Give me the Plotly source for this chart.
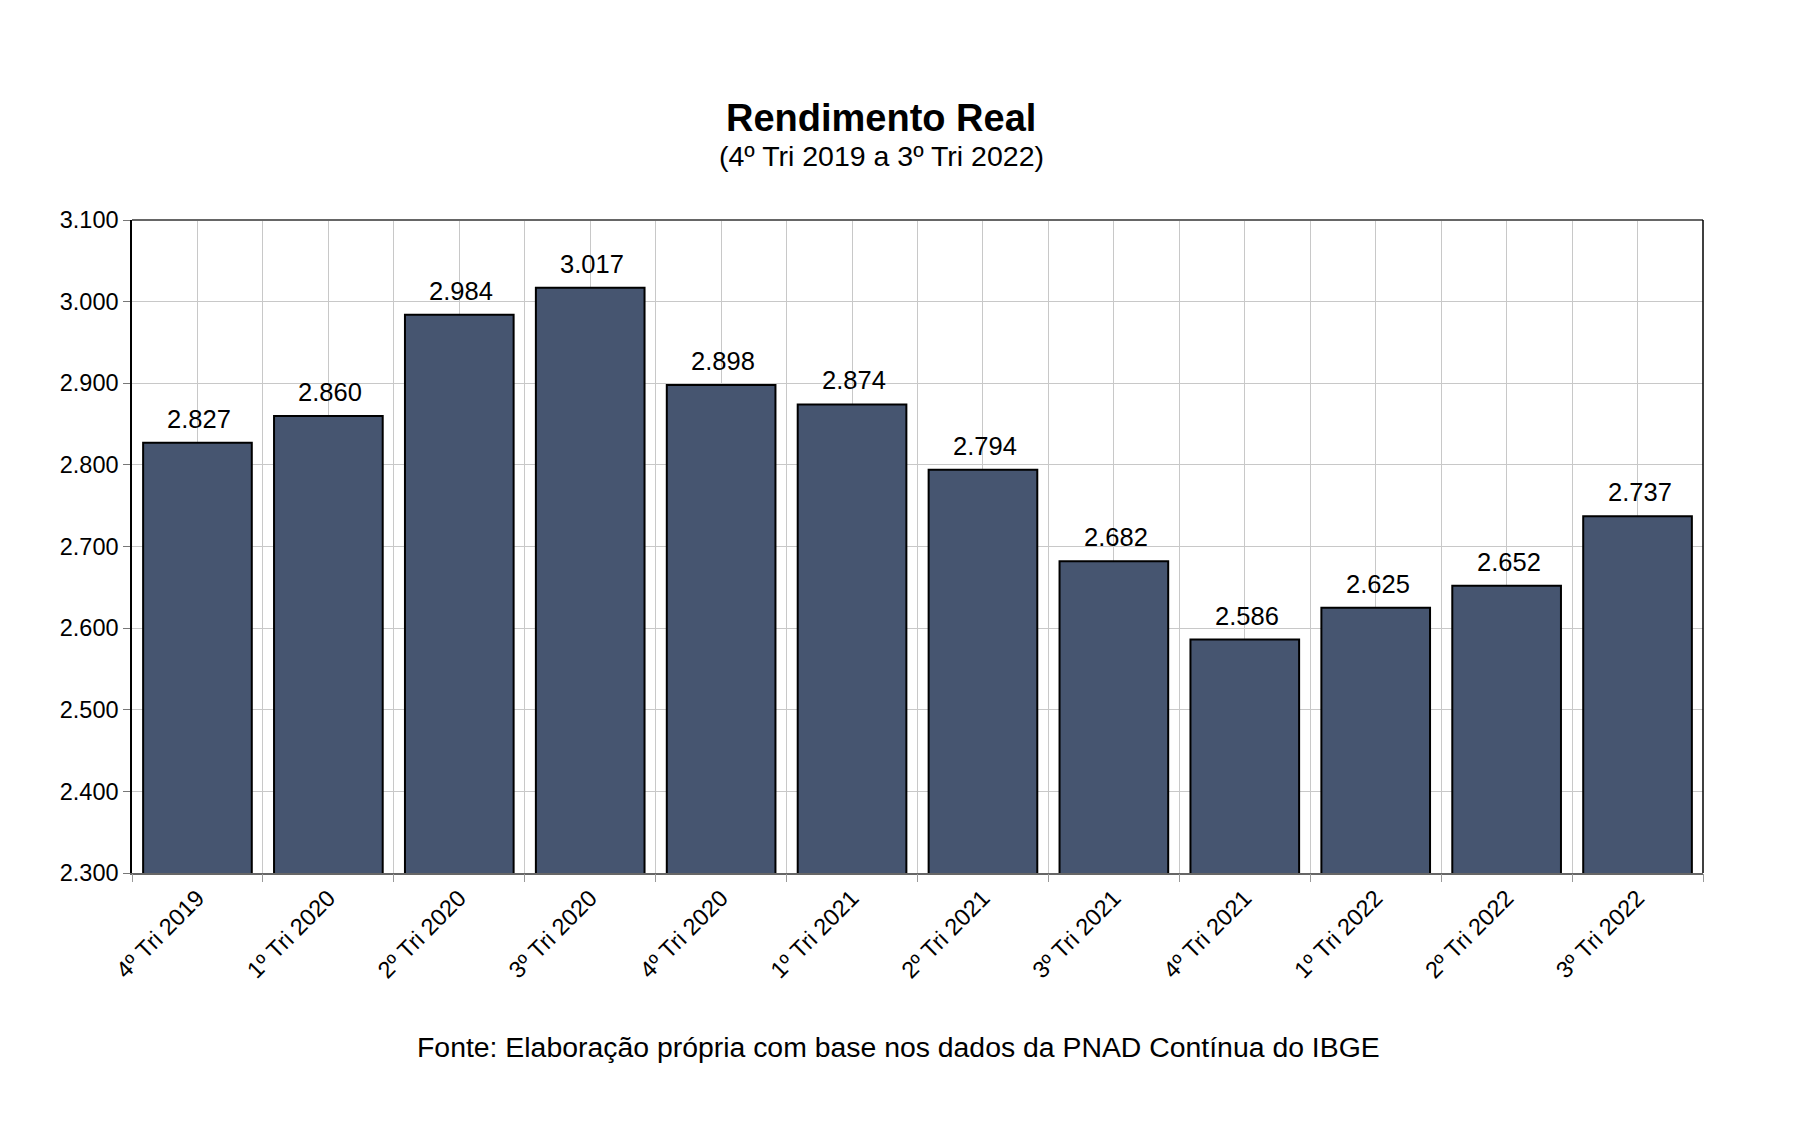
import plotly.graph_objects as go

categories = ["4º Tri 2019", "1º Tri 2020", "2º Tri 2020", "3º Tri 2020", "4º Tri 2020",
              "1º Tri 2021", "2º Tri 2021", "3º Tri 2021", "4º Tri 2021", "1º Tri 2022",
              "2º Tri 2022", "3º Tri 2022"]
rendimento = [2827, 2860, 2984, 3017, 2898, 2874, 2794, 2682, 2586, 2625, 2652, 2737]
y_ticks = [2300, 2400, 2500, 2600, 2700, 2800, 2900, 3000, 3100]

title_text = "Rendimento Real"
subtitle_text = "(4º Tri 2019 a 3º Tri 2022)"
source_text = "Fonte: Elaboração própria com base nos dados da PNAD Contínua do IBGE"

FONT = "Liberation Sans, Arial, sans-serif"
cat_range = [-0.5, len(categories) - 0.5]

fig = go.Figure()
fig.add_trace(go.Bar(
    x=categories, y=rendimento,
    marker=dict(color="#465570", line=dict(color="#000000", width=2)),
    showlegend=False, hoverinfo="x+y",
))
# invisible trace to drive the boundary grid axis
fig.add_trace(go.Scatter(x=categories, y=rendimento, xaxis="x2", mode="markers",
                         marker=dict(opacity=0), showlegend=False, hoverinfo="skip"))

annotations = []
for c, v in zip(categories, rendimento):
    annotations.append(dict(x=c, y=v, xref="x", yref="y", text=f"{v:,}".replace(",", "."),
                            showarrow=False, yanchor="bottom", yshift=8, xshift=2,
                            font=dict(family=FONT, size=25.5, color="#000")))

annotations += [
    dict(x=0.4768, y=1.156, xref="paper", yref="paper", text=f"<b>{title_text}</b>",
         showarrow=False, xanchor="center", yanchor="middle",
         font=dict(family=FONT, size=38, color="#000")),
    dict(x=0.4768, y=1.098, xref="paper", yref="paper", text=subtitle_text,
         showarrow=False, xanchor="center", yanchor="middle",
         font=dict(family=FONT, size=28.5, color="#000")),
    dict(x=0.4876, y=-0.2665, xref="paper", yref="paper", text=source_text,
         showarrow=False, xanchor="center", yanchor="middle",
         font=dict(family=FONT, size=28.4, color="#000")),
]

fig.update_layout(
    width=1800, height=1123,
    margin=dict(l=124, r=105, t=212, b=258),
    paper_bgcolor="white", plot_bgcolor="white",
    separators=",.",
    bargap=0.17,
    font=dict(family=FONT, color="#000"),
    annotations=annotations,
    xaxis=dict(
        type="category", categoryorder="array", categoryarray=categories,
        range=cat_range,
        showgrid=True, gridcolor="#c8c8c8", gridwidth=1,
        ticks="", tickangle=-45,
        tickfont=dict(family=FONT, size=23.5, color="#000"),
        showline=True, linecolor="#666666", linewidth=2, mirror=False,
        zeroline=False,
    ),
    xaxis2=dict(
        type="category", overlaying="x", matches="x", side="bottom",
        categoryorder="array", categoryarray=categories,
        range=cat_range,
        tickson="boundaries", showgrid=True, gridcolor="#c8c8c8", gridwidth=1,
        ticks="outside", ticklen=8, tickcolor="#999999", tickwidth=1,
        showticklabels=False, showline=False, zeroline=False,
    ),
    yaxis=dict(
        range=[2300, 3100], tickvals=y_ticks, tickformat=",.0f",
        showgrid=True, gridcolor="#c8c8c8", gridwidth=1,
        ticks="outside", ticklen=7, tickcolor="#777777",
        tickfont=dict(family=FONT, size=23.5, color="#000"),
        showline=True, linecolor="#000000", linewidth=1.5,
        zeroline=False,
    ),
    shapes=[
        dict(type="line", xref="paper", yref="paper", x0=0, x1=1, y0=1, y1=1,
             line=dict(color="#666666", width=2)),
        dict(type="line", xref="paper", yref="paper", x0=1, x1=1, y0=0, y1=1,
             line=dict(color="#000000", width=1.5)),
    ],
)

fig.write_html("out.html")
